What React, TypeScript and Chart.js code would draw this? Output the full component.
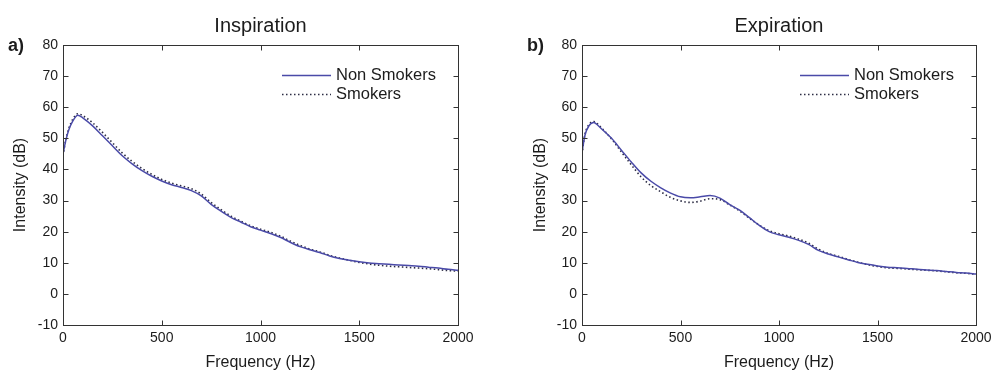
import React, { useEffect, useRef } from "react";
import { Chart, registerables } from "chart.js";

Chart.register(...registerables);

// ---------- data ----------
const inspFreq = [0, 15, 30, 50, 75, 100, 150, 200, 250, 300, 350, 400, 450, 500, 550, 600, 650, 700, 750, 800, 850, 900, 950, 1000, 1050, 1100, 1150, 1200, 1250, 1300, 1350, 1400, 1450, 1500, 1550, 1600, 1650, 1700, 1750, 1800, 1850, 1900, 1950, 2000];
const inspNonSmokers = [45, 49.5, 52.8, 55.6, 57.4, 56.6, 54.0, 50.8, 47.6, 44.4, 41.8, 39.6, 37.8, 36.3, 35.1, 34.2, 33.2, 31.5, 28.8, 26.6, 24.6, 23.1, 21.6, 20.5, 19.4, 18.2, 16.6, 15.2, 14.2, 13.3, 12.2, 11.4, 10.8, 10.3, 9.9, 9.7, 9.5, 9.3, 9.1, 8.9, 8.6, 8.3, 7.9, 7.6];
const inspSmokers = [44.5, 49.8, 53.3, 56.2, 57.9, 57.3, 55.0, 51.9, 48.6, 45.3, 42.6, 40.3, 38.4, 36.8, 35.6, 34.7, 33.8, 32.1, 29.4, 27.1, 25.0, 23.4, 21.9, 20.8, 19.8, 18.6, 17.0, 15.6, 14.4, 13.5, 12.4, 11.5, 10.8, 10.1, 9.6, 9.2, 8.9, 8.7, 8.5, 8.3, 8.1, 7.8, 7.5, 7.3];

const expFreq = [0, 15, 35, 60, 80, 100, 150, 200, 250, 300, 350, 400, 450, 500, 550, 600, 650, 700, 750, 800, 850, 900, 950, 1000, 1050, 1100, 1150, 1200, 1250, 1300, 1350, 1400, 1450, 1500, 1550, 1600, 1650, 1700, 1750, 1800, 1850, 1900, 1950, 2000];
const expNonSmokers = [45.5, 51.0, 54.0, 55.1, 54.2, 53.0, 50.0, 46.2, 42.4, 38.9, 36.2, 34.1, 32.4, 31.2, 30.9, 31.2, 31.6, 30.8, 28.7, 26.9, 24.5, 22.0, 20.0, 19.0, 18.2, 17.2, 15.9, 14.0, 12.8, 11.9, 11.0, 10.1, 9.5, 9.0, 8.6, 8.4, 8.2, 7.9, 7.7, 7.5, 7.2, 6.9, 6.7, 6.4];
const expSmokers = [45.0, 51.3, 54.4, 55.4, 54.6, 53.3, 49.8, 45.6, 41.5, 37.6, 34.8, 32.8, 31.0, 29.9, 29.4, 29.8, 30.6, 30.3, 28.6, 26.7, 24.3, 22.1, 20.3, 19.3, 18.6, 17.6, 16.3, 14.4, 13.0, 12.1, 11.1, 10.2, 9.4, 8.8, 8.4, 8.2, 8.0, 7.8, 7.6, 7.4, 7.1, 6.8, 6.6, 6.3];

const seriesLabels = ["Non Smokers", "Smokers"];
const xTicks = [0, 500, 1000, 1500, 2000];
const yTicks = [-10, 0, 10, 20, 30, 40, 50, 60, 70, 80];

const FONT = "'Liberation Sans', Arial, Helvetica, sans-serif";
const TEXT = "#1c1c1c";

type PanelProps = {
  freq: number[];
  nonSmokers: number[];
  smokers: number[];
  title: string;
  tag: string;
  padLeft: number;
  padRight: number;
  yWidth: number;
  tagX: number;
};

function Panel(props: PanelProps) {
  const ref = useRef<HTMLCanvasElement | null>(null);
  useEffect(() => {
    const canvas = ref.current;
    if (!canvas) return;
    const decor = {
      id: "decor",
      afterDraw(chart: any) {
        const ctx = chart.ctx;
        const a = chart.chartArea;
        const xs = chart.scales.x;
        const ys = chart.scales.y;
        ctx.save();
        // box
        ctx.strokeStyle = "#333";
        ctx.lineWidth = 1;
        const L = Math.round(a.left) + 0.5;
        const R = Math.round(a.right) + 0.5;
        const T = Math.round(a.top) + 0.5;
        const B = Math.round(a.bottom) + 0.5;
        ctx.strokeRect(L, T, R - L, B - T);
        // inward ticks
        const tl = 5;
        ctx.beginPath();
        xTicks.forEach((v) => {
          const px = Math.round(xs.getPixelForValue(v)) + 0.5;
          ctx.moveTo(px, B);
          ctx.lineTo(px, B - tl);
          ctx.moveTo(px, T);
          ctx.lineTo(px, T + tl);
        });
        yTicks.forEach((v) => {
          const py = Math.round(ys.getPixelForValue(v)) + 0.5;
          ctx.moveTo(L, py);
          ctx.lineTo(L + tl, py);
          ctx.moveTo(R, py);
          ctx.lineTo(R - tl, py);
        });
        ctx.stroke();
        // title
        ctx.fillStyle = TEXT;
        ctx.font = `20px ${FONT}`;
        ctx.textAlign = "center";
        ctx.textBaseline = "middle";
        ctx.fillText(props.title, (a.left + a.right) / 2, 26);
        // panel tag
        ctx.font = `bold 18px ${FONT}`;
        ctx.textAlign = "left";
        ctx.fillText(props.tag, props.tagX, 46);
        // legend
        const ds = chart.data.datasets;
        const lx = a.right - 176;
        const lineLen = 49;
        const rows = [a.top + 30, a.top + 49];
        ds.forEach((d: any, i: number) => {
          const y = Math.round(rows[i]) + 0.5;
          ctx.beginPath();
          ctx.strokeStyle = d.borderColor;
          ctx.lineWidth = d.borderWidth;
          ctx.setLineDash(d.borderDash || []);
          ctx.moveTo(lx, y);
          ctx.lineTo(lx + lineLen, y);
          ctx.stroke();
          ctx.setLineDash([]);
          ctx.fillStyle = TEXT;
          ctx.font = `16.5px ${FONT}`;
          ctx.textAlign = "left";
          ctx.textBaseline = "middle";
          ctx.fillText(d.label, lx + lineLen + 5, rows[i]);
        });
        ctx.restore();
      },
    };
    const chart = new Chart(canvas, {
      type: "line",
      data: {
        datasets: [
          {
            label: seriesLabels[0],
            data: props.freq.map((f, i) => ({ x: f, y: props.nonSmokers[i] })),
            borderColor: "#4a4aa8",
            borderWidth: 1.5,
            pointRadius: 0,
            cubicInterpolationMode: "monotone",
            fill: false,
          },
          {
            label: seriesLabels[1],
            data: props.freq.map((f, i) => ({ x: f, y: props.smokers[i] })),
            borderColor: "#2c2c44",
            borderWidth: 1.6,
            borderDash: [1.5, 2.5],
            pointRadius: 0,
            cubicInterpolationMode: "monotone",
            fill: false,
          },
        ],
      },
      options: {
        responsive: false,
        animation: false,
        layout: { padding: { left: props.padLeft, right: props.padRight, top: 45, bottom: 0 } },
        plugins: { legend: { display: false }, tooltip: { enabled: false }, title: { display: false } },
        scales: {
          x: {
            type: "linear",
            min: 0,
            max: 2000,
            grid: { display: false, drawTicks: false },
            border: { display: false },
            afterBuildTicks: (s: any) => {
              s.ticks = xTicks.map((v) => ({ value: v }));
            },
            afterFit: (s: any) => {
              s.height = 49;
              s.paddingLeft = 0;
              s.paddingRight = 0;
            },
            ticks: {
              color: TEXT,
              font: { family: FONT, size: 14 },
              padding: 5,
              maxRotation: 0,
              callback: (v: any) => String(v),
            },
            title: { display: true, text: "Frequency (Hz)", color: TEXT, font: { family: FONT, size: 16 }, padding: { top: 0, bottom: 2 } },
          },
          y: {
            type: "linear",
            min: -10,
            max: 80,
            grid: { display: false, drawTicks: false },
            border: { display: false },
            afterBuildTicks: (s: any) => {
              s.ticks = yTicks.map((v) => ({ value: v }));
            },
            afterFit: (s: any) => {
              s.width = props.yWidth;
              s.paddingTop = 0;
              s.paddingBottom = 0;
            },
            ticks: { color: TEXT, font: { family: FONT, size: 14 }, padding: 5, autoSkip: false, callback: (v: any) => String(v) },
            title: { display: true, text: "Intensity (dB)", color: TEXT, font: { family: FONT, size: 16 }, padding: { top: 11, bottom: 0 } },
          },
        },
      },
      plugins: [decor],
    } as any);
    return () => chart.destroy();
  }, []);
  return <canvas ref={ref} width={497} height={374} style={{ display: "block" }} />;
}

export default function App() {
  return (
    <div style={{ position: "absolute", left: 0, top: 0, width: 994, height: 374, background: "#fff", overflow: "hidden" }}>
      <div style={{ position: "absolute", left: 0, top: 0, width: 497, height: 374 }}>
        <Panel freq={inspFreq} nonSmokers={inspNonSmokers} smokers={inspSmokers} title="Inspiration" tag="a)" padLeft={0} padRight={39} yWidth={63} tagX={8} />
      </div>
      <div style={{ position: "absolute", left: 497, top: 0, width: 497, height: 374 }}>
        <Panel freq={expFreq} nonSmokers={expNonSmokers} smokers={expSmokers} title="Expiration" tag="b)" padLeft={23} padRight={18} yWidth={62} tagX={30} />
      </div>
    </div>
  );
}
